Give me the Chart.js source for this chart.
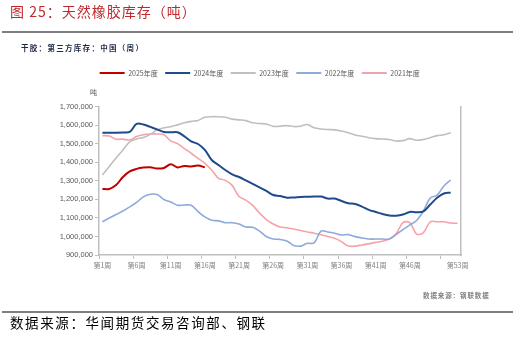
<!DOCTYPE html>
<html>
<head>
<meta charset="utf-8">
<script src="https://cdn.jsdelivr.net/npm/chart.js@4.4.1/dist/chart.umd.min.js"></script>
<style>
  body { margin: 0; width: 531px; height: 339px; background: #fff; position: relative; overflow: hidden; font-family: "Noto Sans CJK SC", sans-serif; }
  #grafico { position: absolute; left: 0; top: 0; }
  .texto { position: absolute; white-space: nowrap; line-height: 1; }
  .regua { position: absolute; left: 2px; width: 511px; height: 2px; background: #7f7f7f; }
</style>
</head>
<body>
<canvas id="grafico" width="531" height="339"></canvas>
<div class="texto" style="left:10px;top:4px;font-size:14px;color:#c0282e;letter-spacing:1px">图 25：天然橡胶库存（吨）</div>
<div class="regua" style="top:31px"></div>
<div class="texto" style="left:21px;top:44px;font-size:7.5px;font-weight:bold;color:#1f2a44;letter-spacing:1.3px">干胶：第三方库存：中国（周）</div>
<div class="texto" style="left:90px;top:89px;font-size:7px;color:#595959">吨</div>
<div class="texto" style="left:423px;top:292px;font-size:6.5px;font-weight:bold;color:#7f7f7f;letter-spacing:0.9px">数据来源：钢联数据</div>
<div class="regua" style="top:311px"></div>
<div class="texto" style="left:10px;top:316px;font-size:13.5px;color:#000;letter-spacing:1.6px">数据来源：华闻期货交易咨询部、钢联</div>

<script>
const grafico = document.getElementById('grafico')

// semanas do ano: 第1周 ... 第53周
const semanas = []
for (let i = 1; i <= 53; i++) semanas.push('第' + i + '周')

// rótulos que aparecem no eixo x
const rotulosX = ['第1周', '第6周', '第11周', '第16周', '第21周', '第26周', '第31周', '第36周', '第41周', '第46周', '第53周']

const anos = ['2025年度', '2024年度', '2023年度', '2022年度', '2021年度']

// estoque (吨) por semana
const ano2025 = [1256000, 1256000, 1277000, 1320000, 1350000, 1364000, 1371000, 1373000, 1366000, 1369000,
  1389000, 1372000, 1380000, 1377000, 1382000, 1372000]

const ano2024 = [1559000, 1559000, 1559000, 1560000, 1563000, 1606000, 1603000, 1590000, 1577000, 1563000,
  1561000, 1561000, 1539000, 1512000, 1498000, 1466000, 1412000, 1385000, 1358000, 1334000,
  1320000, 1302000, 1283000, 1264000, 1245000, 1223000, 1218000, 1209000, 1210000, 1213000,
  1214000, 1215000, 1215000, 1204000, 1204000, 1191000, 1179000, 1175000, 1161000, 1143000,
  1132000, 1121000, 1113000, 1112000, 1118000, 1132000, 1130000, 1135000, 1172000, 1208000,
  1231000, 1236000]

const ano2023 = [1331000, 1377000, 1423000, 1466000, 1509000, 1525000, 1533000, 1550000, 1574000, 1585000,
  1591000, 1601000, 1612000, 1620000, 1625000, 1642000, 1645000, 1645000, 1642000, 1632000,
  1628000, 1624000, 1612000, 1608000, 1606000, 1593000, 1594000, 1597000, 1592000, 1594000,
  1603000, 1585000, 1579000, 1576000, 1574000, 1568000, 1559000, 1547000, 1540000, 1532000,
  1527000, 1525000, 1522000, 1514000, 1516000, 1527000, 1518000, 1522000, 1532000, 1543000,
  1548000, 1559000]

const ano2022 = [1079000, 1099000, 1118000, 1137000, 1159000, 1183000, 1213000, 1227000, 1226000, 1199000,
  1186000, 1168000, 1169000, 1168000, 1134000, 1105000, 1087000, 1084000, 1074000, 1074000,
  1067000, 1051000, 1049000, 1029000, 1000000, 986000, 984000, 975000, 951000, 948000,
  963000, 965000, 1029000, 1024000, 1017000, 1008000, 1010000, 999000, 992000, 986000,
  986000, 986000, 986000, 1010000, 1037000, 1062000, 1086000, 1137000, 1207000, 1223000,
  1272000, 1304000]

const ano2021 = [1543000, 1541000, 1524000, 1524000, 1520000, 1538000, 1548000, 1552000, 1552000, 1548000,
  1515000, 1500000, 1473000, 1448000, 1421000, 1394000, 1358000, 1313000, 1302000, 1275000,
  1215000, 1196000, 1167000, 1126000, 1091000, 1067000, 1051000, 1047000, 1040000, 1032000,
  1024000, 1017000, 1009000, 1000000, 990000, 972000, 948000, 948000, 954000, 960000,
  968000, 974000, 986000, 1014000, 1075000, 1074000, 1013000, 1021000, 1079000, 1079000,
  1079000, 1072000, 1071000]

const cores = ['#c00000', '#1f4a8c', '#bfbfbf', '#8ea9db', '#f5a3ab']
const larguras = [2, 2, 1.6, 1.6, 1.6]
const series = [ano2025, ano2024, ano2023, ano2022, ano2021]

// empurra a área do gráfico para baixo da legenda
const espacoLegenda = {
  id: 'espacoLegenda',
  beforeInit(chart) {
    const fitOriginal = chart.legend.fit
    chart.legend.fit = function () {
      fitOriginal.bind(chart.legend)()
      this.height += 20
    }
  }
}

const cinza = '#bfbfbf'

new Chart(grafico, {
  type: 'line',
  data: {
    labels: semanas,
    datasets: series.map((s, i) => ({
      label: anos[i],
      data: s,
      borderColor: cores[i],
      backgroundColor: cores[i],
      borderWidth: larguras[i],
      pointRadius: 0,
      tension: 0.35,
      fill: false
    }))
  },
  options: {
    responsive: false,
    animation: false,
    devicePixelRatio: 1,
    layout: { padding: { top: 62, left: 58.5, right: 70, bottom: 67 } },
    plugins: {
      tooltip: { enabled: false },
      legend: {
        labels: {
          boxWidth: 25,
          boxHeight: 2,
          padding: 7.5,
          color: '#595959',
          font: { family: 'Noto Sans CJK SC', size: 7 },
          generateLabels(chart) {
            return Chart.defaults.plugins.legend.labels.generateLabels(chart).map(l => {
              l.lineWidth = 0
              return l
            })
          }
        }
      }
    },
    scales: {
      x: {
        offset: true,
        afterFit: s => { s.height = 17 },
        grid: {
          offset: true,
          drawOnChartArea: false,
          tickLength: 4,
          color: ctx => (ctx.index % 5 === 0 || ctx.index === 53) ? cinza : 'rgba(0,0,0,0)'
        },
        border: { color: cinza, width: 1.5 },
        ticks: {
          autoSkip: false,
          maxRotation: 0,
          padding: 2,
          color: '#7f7f7f',
          font: { family: 'Noto Sans CJK SC', size: 7 },
          callback: function (v) {
            const r = this.getLabelForValue(v)
            return rotulosX.includes(r) ? r : ''
          }
        }
      },
      y: {
        min: 900000,
        max: 1700000,
        afterFit: s => { s.width = 40.5 },
        grid: { drawOnChartArea: false, tickLength: 4, color: cinza },
        border: { color: cinza, width: 1.5 },
        ticks: {
          stepSize: 100000,
          padding: 2,
          color: '#595959',
          font: { family: 'Liberation Sans', size: 7.5 },
          callback: v => v.toLocaleString('en-US')
        }
      },
      y2: {
        position: 'right',
        min: 900000,
        max: 1700000,
        afterFit: s => { s.width = 0 },
        grid: { display: false },
        border: { color: cinza, width: 1.5 },
        ticks: { display: false }
      }
    }
  },
  plugins: [espacoLegenda]
})
</script>
</body>
</html>
